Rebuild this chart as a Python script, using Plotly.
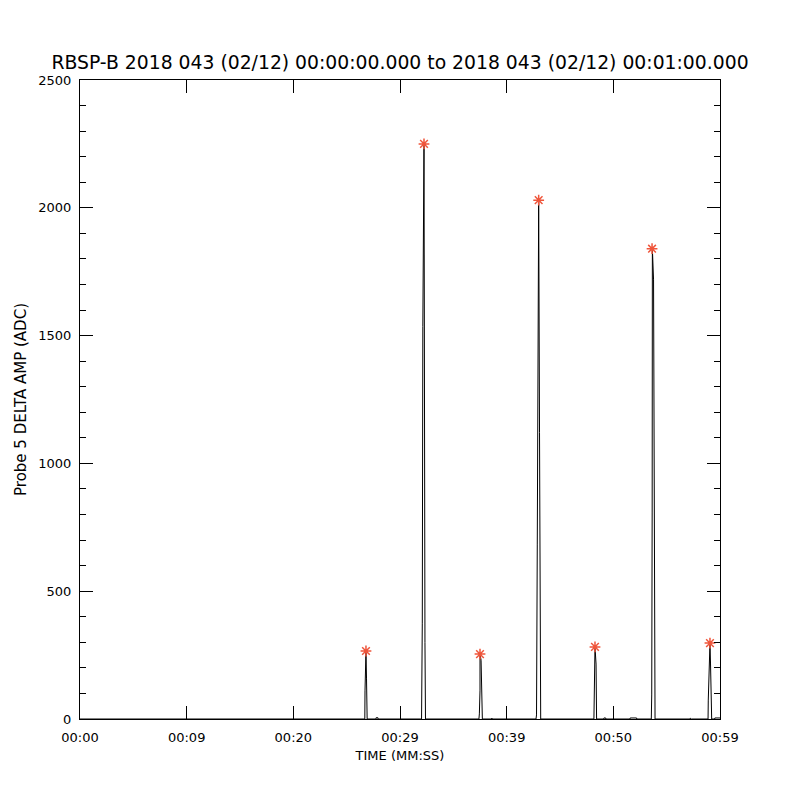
import plotly.graph_objects as go

# Time series (seconds from 00:00:00) and probe 5 delta amplitude (ADC)
time_s = [0.0, 26.70, 26.72, 26.81, 26.86, 26.90, 26.92,
          27.75, 27.76, 27.93, 27.94,
          32.02, 32.09, 32.14, 32.25, 32.34, 32.39,
          37.40, 37.44, 37.50, 37.50, 37.60, 37.68, 37.72,
          38.60, 38.61, 38.62,
          42.75, 42.80, 42.87, 43.00, 43.08, 43.15, 43.19,
          48.18, 48.22, 48.28, 48.38, 48.43,
          49.10, 49.12, 49.28, 49.30,
          51.56, 51.58, 52.18, 52.20,
          53.56, 53.60, 53.64, 53.66, 53.77, 53.86, 53.91,
          57.20, 57.22, 57.30,
          58.88, 58.90, 59.06, 59.11, 59.18, 59.22,
          59.50, 59.52, 60.0]
amp_adc = [0, 0, 110, 266, 160, 110, 0,
           0, 5, 5, 0,
           0, 375, 1535, 2250, 300, 0,
           0, 20, 113, 254, 230, 113, 0,
           0, 3, 0,
           0, 16, 681, 2030, 1120, 106, 0,
           0, 184, 282, 215, 0,
           0, 4, 4, 0,
           0, 4, 4, 0,
           0, 94, 806, 1840, 1718, 806, 0,
           0, 3, 0,
           0, 74, 297, 219, 43, 0,
           0, 4, 4]

# Detected peaks (red asterisks)
peak_time_s = [26.81, 32.25, 37.50, 43.00, 48.28, 53.63, 59.06]
peak_amp_adc = [266, 2250, 254, 2030, 282, 1840, 297]

x_tick_vals = [0, 10, 20, 30, 40, 50, 60]
x_tick_text = ["00:00", "00:09", "00:20", "00:29", "00:39", "00:50", "00:59"]
y_tick_vals = [0, 500, 1000, 1500, 2000, 2500]

title_text = "RBSP-B 2018 043 (02/12) 00:00:00.000 to 2018 043 (02/12) 00:01:00.000"

fig = go.Figure()
fig.add_trace(go.Scatter(x=time_s, y=amp_adc, mode="lines",
                         line=dict(color="black", width=1), showlegend=False))
fig.add_trace(go.Scatter(x=peak_time_s, y=peak_amp_adc, mode="markers",
                         marker=dict(symbol="asterisk-open", size=9,
                                     line=dict(color="#ff0000", width=1.5)),
                         showlegend=False))

font_family = "DejaVu Sans, Liberation Sans, sans-serif"
# page body has an 8px default margin, so offset margins accordingly
fig.update_layout(
    width=800, height=800,
    paper_bgcolor="white", plot_bgcolor="white",
    margin=dict(l=72, r=88, t=72, b=89),
    title=dict(text=title_text, x=(400 - 8) / 800, xanchor="center",
               y=1 - 54 / 800, yanchor="middle",
               font=dict(family=font_family, size=18.8, color="black")),
    font=dict(family=font_family, color="black"),
)
fig.update_xaxes(
    range=[0, 60], showgrid=False, zeroline=False,
    showline=True, linecolor="black", linewidth=1, mirror="ticks",
    ticks="inside", ticklen=13, tickcolor="black", tickwidth=1,
    tickvals=x_tick_vals, ticktext=x_tick_text,
    tickfont=dict(size=13, family=font_family), ticklabelstandoff=6,
    title=dict(text="TIME (MM:SS)", font=dict(size=13, family=font_family), standoff=7),
)
fig.update_yaxes(
    range=[0, 2500], showgrid=False, zeroline=False,
    showline=True, linecolor="black", linewidth=1, mirror="ticks",
    ticks="inside", ticklen=13, tickcolor="black", tickwidth=1,
    tickvals=y_tick_vals,
    minor=dict(dtick=100, ticks="inside", ticklen=6, tickcolor="black", tickwidth=1, showgrid=False),
    tickfont=dict(size=13, family=font_family), ticklabelstandoff=5,
    title=dict(text="Probe 5 DELTA AMP (ADC)", font=dict(size=15, family=font_family), standoff=8),
)

fig.write_html("out.html")
